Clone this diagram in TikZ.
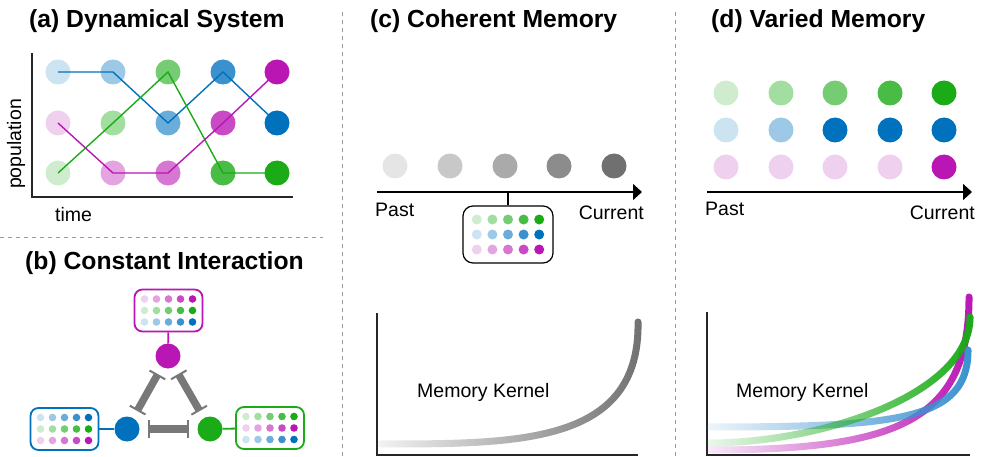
\documentclass[tikz,border=0pt]{standalone}
\usepackage{fontspec}
\setmainfont{Liberation Sans}
\usetikzlibrary{arrows.meta}
\usetikzlibrary{calc}
\usetikzlibrary{fadings}
\definecolor{blu1}{RGB}{204,227,242}
\definecolor{blu2}{RGB}{157,201,230}
\definecolor{blu3}{RGB}{106,173,219}
\definecolor{blu4}{RGB}{58,145,206}
\definecolor{blu5}{RGB}{0,114,189}
\definecolor{grn1}{RGB}{207,237,206}
\definecolor{grn2}{RGB}{162,222,160}
\definecolor{grn3}{RGB}{117,204,115}
\definecolor{grn4}{RGB}{72,188,69}
\definecolor{grn5}{RGB}{26,171,23}
\definecolor{mag1}{RGB}{240,208,239}
\definecolor{mag2}{RGB}{228,164,225}
\definecolor{mag3}{RGB}{214,119,210}
\definecolor{mag4}{RGB}{200,74,196}
\definecolor{mag5}{RGB}{185,22,180}
\definecolor{gry1}{RGB}{229,229,229}
\definecolor{gry2}{RGB}{200,200,200}
\definecolor{gry3}{RGB}{170,170,170}
\definecolor{gry4}{RGB}{140,140,140}
\definecolor{gry5}{RGB}{112,112,112}
\definecolor{inh}{RGB}{120,120,120}
\tikzfading[name=kernfade, left color=transparent!92, right color=transparent!0]

\begin{document}
\begin{tikzpicture}[x=1pt,y=-1pt,
    dot/.style={circle,inner sep=0pt,minimum size=25pt},
    ttl/.style={anchor=base west,inner sep=0pt,font=\bfseries\fontsize{24.7}{28}\selectfont},
    lbl/.style={inner sep=0pt,font=\fontsize{19.5}{22}\selectfont},
    sep/.style={draw=gray!80,line width=0.8pt,dash pattern=on 4pt off 4pt},
    traj/.style={line width=1.4pt},
    axes/.style={line width=1.1pt,draw=black!85},
    timeline/.style={line width=1.5pt,-{Triangle[length=9pt,width=16pt]}},
    mbox/.style={rounded corners=8pt,line width=1.8pt,minimum width=68pt,minimum height=42pt,inner sep=0pt},
    stem/.style={line width=1.8pt},
    inhib/.style={draw=inh,line width=7.5pt,shorten <=8pt,shorten >=8pt,{Bar[width=18pt,line width=2pt]}-{Bar[width=18pt,line width=2pt]}},
    kern/.style={line width=7pt,line cap=round,path fading=kernfade}]
    \useasboundingbox (0,0) rectangle (982,457);

    \draw[sep] (342,12) -- (342,457);
    \draw[sep] (675,12) -- (675,457);
    \draw[sep] (0,237) -- (323,237);

    \node[ttl] (TA) at (29,28) {(a) Dynamical System};
    \node[ttl] (TB) at (25,269) {(b) Constant Interaction};
    \node[ttl] (TC) at (370,28) {(c) Coherent Memory};
    \node[ttl] (TD) at (711,28) {(d) Varied Memory};

    \draw[axes] (32,53) -- (32,197) -- (293,197);
    \node[lbl,rotate=90] (ylab) at (16,144) {population};
    \node[lbl,anchor=base west] (xlab) at (55,222) {time};
    \node[dot,fill=blu1] (B1) at (58,72) {};
    \node[dot,fill=blu2] (B2) at (113,72) {};
    \node[dot,fill=blu3] (B3) at (168,123) {};
    \node[dot,fill=blu4] (B4) at (223,72) {};
    \node[dot,fill=blu5] (B5) at (277,123) {};
    \node[dot,fill=grn1] (G1) at (58,173) {};
    \node[dot,fill=grn2] (G2) at (113,123) {};
    \node[dot,fill=grn3] (G3) at (168,72) {};
    \node[dot,fill=grn4] (G4) at (223,173) {};
    \node[dot,fill=grn5] (G5) at (277,173) {};
    \node[dot,fill=mag1] (M1) at (58,123) {};
    \node[dot,fill=mag2] (M2) at (113,173) {};
    \node[dot,fill=mag3] (M3) at (168,173) {};
    \node[dot,fill=mag4] (M4) at (223,123) {};
    \node[dot,fill=mag5] (M5) at (277,72) {};
    \draw[traj,draw=blu5] (B1.center) -- (B2.center) -- (B3.center) -- (B4.center) -- (B5.center);
    \draw[traj,draw=grn5] (G1.center) -- (G2.center) -- (G3.center) -- (G4.center) -- (G5.center);
    \draw[traj,draw=mag5] (M1.center) -- (M2.center) -- (M3.center) -- (M4.center) -- (M5.center);

    \node[dot,fill=mag5] (MC) at (168,356) {};
    \node[dot,fill=blu5] (BC) at (127,429) {};
    \node[dot,fill=grn5] (GC) at (210,429) {};
    \node[mbox,draw=mag5] (MB) at (168.5,310.5) {};
    \node[mbox,draw=blu5] (BB) at (64.5,429) {};
    \node[mbox,draw=grn5] (GB) at (270,428) {};
    \foreach \c [count=\r] in {mag,grn,blu}
        \foreach \i in {1,...,5}
            \fill[fill=\c\i] ($(MB)+(12*\i-36,11.5*\r-23)$) circle (3.8);
    \foreach \c [count=\r] in {blu,grn,mag}
        \foreach \i in {1,...,5}
            \fill[fill=\c\i] ($(BB)+(12*\i-36,11.5*\r-23)$) circle (3.8);
    \foreach \c [count=\r] in {grn,mag,blu}
        \foreach \i in {1,...,5}
            \fill[fill=\c\i] ($(GB)+(12*\i-36,11.5*\r-23)$) circle (3.8);
    \draw[stem,draw=mag5] (MB) -- (MC);
    \draw[stem,draw=blu5] (BB) -- (BC);
    \draw[stem,draw=grn5] (GB) -- (GC);
    \draw[inhib] (MC) -- (BC);
    \draw[inhib] (MC) -- (GC);
    \draw[inhib] (BC) -- (GC);

    \node[dot,fill=gry1] (K1) at (395,166) {};
    \node[dot,fill=gry2] (K2) at (450,166) {};
    \node[dot,fill=gry3] (K3) at (505,166) {};
    \node[dot,fill=gry4] (K4) at (559,166) {};
    \node[dot,fill=gry5] (K5) at (614,166) {};
    \coordinate (CP) at (377,192);
    \coordinate (CC) at (642,192);
    \draw[timeline] (CP) -- (CC);
    \node[lbl,anchor=base west] (cpast) at (375,216) {Past};
    \node[lbl,anchor=base east] (ccur) at (644,219) {Current};
    \node[draw,rounded corners=10pt,line width=1.2pt,minimum width=90pt,minimum height=57pt,inner sep=0pt] (CB) at (508,234.5) {};
    \foreach \c [count=\r] in {grn,blu,mag}
        \foreach \i in {1,...,5}
            \fill[fill=\c\i] ($(CB)+(15.6*\i-46.8,15*\r-30)$) circle (5);
    \coordinate (CX) at (CB.north |- CP);
    \draw[line width=1.2pt] (CB.north) -- (CX);
    \draw[axes] (377,313) -- (377,455) -- (638,455);
    \node[lbl,anchor=base west] (ckern) at (417,397) {Memory Kernel};
    \draw[kern,draw=gry5] (380,444) .. controls (520,444) and (640,444) .. (638,322);

    \foreach \i/\x in {1/726,2/781,3/835,4/890,5/944}
        \node[dot,fill=grn\i] (DG\i) at (\x,93) {};
    \foreach \i/\x/\s in {1/726/1,2/781/2,3/835/5,4/890/5,5/944/5}
        \node[dot,fill=blu\s] (DB\i) at (\x,130) {};
    \foreach \i/\x/\s in {1/726/1,2/781/1,3/835/1,4/890/1,5/944/5}
        \node[dot,fill=mag\s] (DM\i) at (\x,167) {};
    \coordinate (DP) at (707,192);
    \coordinate (DC) at (972,192);
    \draw[timeline] (DP) -- (DC);
    \node[lbl,anchor=base west] (dpast) at (705,215) {Past};
    \node[lbl,anchor=base east] (dcur) at (975,219) {Current};
    \draw[axes] (707,312) -- (707,455) -- (970,455);
    \node[lbl,anchor=base west] (dkern) at (736,397) {Memory Kernel};
    \draw[kern,draw=mag5] (709,450) .. controls (900,450) and (969,420) .. (969,297);
    \draw[kern,draw=blu4] (709,427) .. controls (900,427) and (968,420) .. (968,350);
    \draw[kern,draw=grn5] (709,443) .. controls (820,443) and (970,395) .. (970,317);
\end{tikzpicture}
\end{document}
